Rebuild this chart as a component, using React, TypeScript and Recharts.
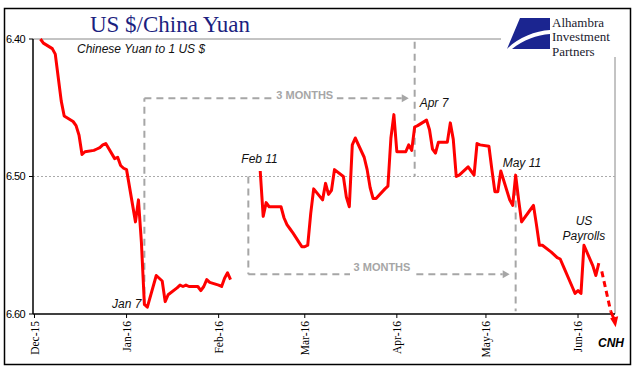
import { LineChart, Line, XAxis, YAxis, ReferenceLine, ReferenceDot } from "recharts";

// CNH per 1 US$, trading days (gap over Chinese New Year)
const dates = [
  "2015-12-03", "2015-12-04", "2015-12-07", "2015-12-08", "2015-12-09", "2015-12-10", "2015-12-11",
  "2015-12-14", "2015-12-15", "2015-12-16", "2015-12-17", "2015-12-18", "2015-12-21", "2015-12-22",
  "2015-12-23", "2015-12-24", "2015-12-25", "2015-12-28", "2015-12-29", "2015-12-30", "2015-12-31",
  "2016-01-01", "2016-01-04", "2016-01-05", "2016-01-06", "2016-01-07", "2016-01-08", "2016-01-11",
  "2016-01-12", "2016-01-13", "2016-01-14", "2016-01-15", "2016-01-18", "2016-01-19", "2016-01-20",
  "2016-01-21", "2016-01-22", "2016-01-25", "2016-01-26", "2016-01-27", "2016-01-28", "2016-01-29",
  "2016-02-01", "2016-02-02", "2016-02-03", "2016-02-04", "2016-02-05", "2016-02-10", "2016-02-15",
  "2016-02-16", "2016-02-17", "2016-02-18", "2016-02-19", "2016-02-22", "2016-02-23", "2016-02-24",
  "2016-02-25", "2016-02-26", "2016-02-29", "2016-03-01", "2016-03-02", "2016-03-03", "2016-03-04",
  "2016-03-07", "2016-03-08", "2016-03-09", "2016-03-10", "2016-03-11", "2016-03-14", "2016-03-15",
  "2016-03-16", "2016-03-17", "2016-03-18", "2016-03-21", "2016-03-22", "2016-03-23", "2016-03-24",
  "2016-03-25", "2016-03-28", "2016-03-29", "2016-03-30", "2016-03-31", "2016-04-01", "2016-04-04",
  "2016-04-05", "2016-04-06", "2016-04-07", "2016-04-08", "2016-04-11", "2016-04-12", "2016-04-13",
  "2016-04-14", "2016-04-15", "2016-04-18", "2016-04-19", "2016-04-20", "2016-04-21", "2016-04-22",
  "2016-04-25", "2016-04-26", "2016-04-27", "2016-04-28", "2016-04-29", "2016-05-02", "2016-05-03",
  "2016-05-04", "2016-05-05", "2016-05-06", "2016-05-09", "2016-05-10", "2016-05-11", "2016-05-12",
  "2016-05-13", "2016-05-16", "2016-05-17", "2016-05-18", "2016-05-19", "2016-05-20", "2016-05-23",
  "2016-05-24", "2016-05-25", "2016-05-26", "2016-05-27", "2016-05-30", "2016-05-31", "2016-06-01",
  "2016-06-02", "2016-06-03", "2016-06-06", "2016-06-07", "2016-06-08",
];
const cnh = [
  6.400, 6.403, 6.407, 6.411, 6.428, 6.445, 6.456,
  6.460, 6.463, 6.470, 6.484, 6.482, 6.481, 6.480,
  6.479, 6.477, 6.476, 6.487, 6.486, 6.492, 6.494,
  6.495, 6.533, 6.517, 6.548, 6.593, 6.595, 6.572,
  6.574, 6.576, 6.591, 6.586, 6.581, 6.579, 6.580,
  6.579, 6.580, 6.580, 6.583, 6.580, 6.575, 6.577,
  6.579, 6.580, 6.574, 6.570, 6.575, null, 6.496,
  6.529, 6.519, 6.522, 6.522, 6.522, 6.530, 6.535,
  6.538, 6.541, 6.551, 6.551, 6.550, 6.527, 6.509,
  6.517, 6.505, 6.513, 6.510, 6.495, 6.500, 6.515,
  6.522, 6.477, 6.472, 6.486, 6.495, 6.508, 6.516,
  6.516, 6.509, 6.507, 6.472, 6.455, 6.482, 6.482,
  6.477, 6.481, 6.464, 6.463, 6.459, 6.466, 6.480,
  6.483, 6.475, 6.475, 6.461, 6.473, 6.500, 6.499,
  6.493, 6.496, 6.499, 6.476, 6.477, 6.478, 6.495,
  6.511, 6.511, 6.496, 6.517, 6.521, 6.499, 6.517,
  6.533, 6.524, 6.521, 6.535, 6.550, 6.550, 6.555,
  6.557, 6.559, 6.560, 6.565, 6.580, 6.585, 6.583,
  6.585, 6.550, 6.565, 6.572, 6.563,
];
// dashed continuation at the end
const projDates = ["2016-06-09", "2016-06-12"];
const projCnh = [6.569, 6.598];

const monthDates = ["2015-12-01", "2016-01-01", "2016-02-01", "2016-03-01", "2016-04-01", "2016-05-01", "2016-06-01"];
const monthLabels = ["Dec-15", "Jan-16", "Feb-16", "Mar-16", "Apr-16", "May-16", "Jun-16"];
const yTicks = [6.4, 6.5, 6.6];

const dayOf = (s: string) => (Date.parse(s) - Date.parse("2015-12-01")) / 86400000;

const rows = dates.map((s, i) => ({ d: dayOf(s), v: cnh[i] }));
const projRows = projDates.map((s, i) => ({ d: dayOf(s), v: projCnh[i] }));
const xTicks = monthDates.map(dayOf);
const X_MAX = 195.45;

const RED = "#ff0000";
const GREY = "#a6a6a6";
const SANS = "'Liberation Sans', Arial, sans-serif";
const SERIF = "'Liberation Serif', 'Times New Roman', serif";

const MonthTick = (p: any) => {
  const i = xTicks.indexOf(p.payload.value);
  return (
    <text x={p.x} y={p.y} transform={`rotate(-90 ${p.x} ${p.y})`} textAnchor="end" dy="0.35em"
      fontFamily={SERIF} fontSize={11.5} fill="#000">
      {monthLabels[i]}
    </text>
  );
};

const dashArrow = (head: boolean) => (p: any) => {
  const { x1, y1, x2, y2 } = p;
  const a = Math.atan2(y2 - y1, x2 - x1);
  const ex = head ? x2 - 7 * Math.cos(a) : x2;
  const ey = head ? y2 - 7 * Math.sin(a) : y2;
  const px = Math.sin(a) * 4, py = -Math.cos(a) * 4;
  return (
    <g>
      <line x1={x1} y1={y1} x2={ex} y2={ey} stroke={GREY} strokeWidth={2} strokeDasharray="7 5" />
      {head && (
        <polygon points={`${x2},${y2} ${ex + px},${ey + py} ${ex - px},${ey - py}`} fill={GREY} />
      )}
    </g>
  );
};

const note = (text: string, anchor: "start" | "middle" | "end", dx: number) => (p: any) => (
  <text x={p.cx + dx} y={p.cy} textAnchor={anchor} fontFamily={SANS} fontStyle="italic"
    fontSize={12} fill="#111">
    {text}
  </text>
);

const months = (dy: number, h: number) => (p: any) => (
  <g>
    <rect x={p.cx - 32} y={p.cy - h} width={64} height={h + 4} fill="#fff" />
    <text x={p.cx} y={p.cy + dy} textAnchor="middle" fontFamily={SANS} fontWeight="bold"
      fontSize={11} fill={GREY}>
      3 MONTHS
    </text>
  </g>
);

const endArrow = (p: any) => {
  if (p.index !== projRows.length - 1) return <g key={p.index} />;
  const { cx, cy } = p;
  return (
    <g key={p.index}>
      <line x1={cx} y1={cy} x2={cx + 3} y2={cy + 7} stroke={RED} strokeWidth={3} />
      <polygon points={`${cx + 5},${cy + 16} ${cx - 0.5},${cy + 7} ${cx + 7.5},${cy + 5}`} fill={RED} />
    </g>
  );
};

export default function App() {
  return (
    <div style={{ position: "relative", width: 641, height: 381, background: "#fff" }}>
      <style>{`body{margin:0}`}</style>
      <LineChart width={641} height={381} margin={{ top: 39, right: 26, bottom: 27, left: 3 }}>
        <XAxis type="number" dataKey="d" domain={[-0.5, X_MAX]} ticks={xTicks} tick={<MonthTick />}
          axisLine={{ stroke: "#000", strokeWidth: 1.5 }} tickLine={{ stroke: "#000" }}
          tickSize={4} tickMargin={3} height={40} interval={0} />
        <YAxis type="number" domain={[6.4, 6.6]} reversed ticks={yTicks} width={30}
          tickFormatter={(v: number) => v.toFixed(2)} interval={0}
          axisLine={{ stroke: "#000", strokeWidth: 1.5 }} tickLine={{ stroke: "#000" }}
          tickSize={4} tickMargin={4}
          tick={{ fill: "#000", fontSize: 11, fontFamily: SANS, letterSpacing: -0.6 }} />
        <ReferenceLine y={6.4} stroke="#888" />
        <ReferenceLine x={X_MAX} stroke="#888" />
        <ReferenceLine y={6.5} stroke="#aaa" strokeDasharray="2 2" />

        <ReferenceLine segment={[{ x: dayOf("2016-01-07"), y: 6.594 }, { x: dayOf("2016-01-07"), y: 6.443 }]}
          shape={dashArrow(false)} />
        <ReferenceLine segment={[{ x: dayOf("2016-01-07"), y: 6.443 }, { x: dayOf("2016-04-05"), y: 6.443 }]}
          shape={dashArrow(true)} />
        <ReferenceLine segment={[{ x: dayOf("2016-04-07"), y: 6.402 }, { x: dayOf("2016-04-07"), y: 6.5 }]}
          shape={dashArrow(false)} />
        <ReferenceLine segment={[{ x: dayOf("2016-02-11"), y: 6.5 }, { x: dayOf("2016-02-11"), y: 6.571 }]}
          shape={dashArrow(false)} />
        <ReferenceLine segment={[{ x: dayOf("2016-02-11"), y: 6.571 }, { x: dayOf("2016-05-09"), y: 6.571 }]}
          shape={dashArrow(true)} />
        <ReferenceLine segment={[{ x: dayOf("2016-05-11"), y: 6.5 }, { x: dayOf("2016-05-11"), y: 6.598 }]}
          shape={dashArrow(false)} />

        <ReferenceDot x={dayOf("2016-03-01")} y={6.443} r={1} shape={months(1, 9)} />
        <ReferenceDot x={dayOf("2016-03-27")} y={6.571} r={1} shape={months(-3, 13)} />

        <ReferenceDot x={dayOf("2016-01-07")} y={6.5956} r={1} shape={note("Jan 7", "end", -3)} />
        <ReferenceDot x={dayOf("2016-02-11")} y={6.4902} r={1} shape={note("Feb 11", "start", -7)} />
        <ReferenceDot x={dayOf("2016-04-07")} y={6.4495} r={1} shape={note("Apr 7", "start", 5)} />
        <ReferenceDot x={dayOf("2016-05-11")} y={6.4931} r={1} shape={note("May 11", "start", -13)} />
        <ReferenceDot x={dayOf("2016-06-03")} y={6.5353} r={1} shape={note("US", "middle", 0)} />
        <ReferenceDot x={dayOf("2016-06-03")} y={6.5462} r={1} shape={note("Payrolls", "middle", 0)} />

        <Line data={rows} dataKey="v" stroke={RED} strokeWidth={3} dot={false} strokeLinejoin="round"
          isAnimationActive={false} connectNulls={false} />
        <Line data={projRows} dataKey="v" stroke={RED} strokeWidth={3} strokeDasharray="6 4"
          dot={endArrow} activeDot={false} isAnimationActive={false} />
      </LineChart>

      <svg width={641} height={381} style={{ position: "absolute", left: 0, top: 0, pointerEvents: "none" }}>
        <rect x={501} y={9.5} width={128} height={47.5} fill="#fff" />
        <path d="M520,18 L550,18 L550,30 C535,31 517,38 507,49 Z" fill="#1b2590" />
        <path d="M512,49 C523,40 537,35 550,34 L550,49 Z" fill="#1b2590" />
        <text fontFamily={SERIF} fontSize={13} fill="#1a1a2e">
          <tspan x={552} y={26.5}>Alhambra</tspan>
          <tspan x={552} y={41}>Investment</tspan>
          <tspan x={552} y={55.5}>Partners</tspan>
        </text>
        <text x={170} y={32} textAnchor="middle" fontFamily={SERIF} fontSize={23} fill="#1c1f7f">
          US $/China Yuan
        </text>
        <text x={77} y={53} fontFamily={SANS} fontStyle="italic" fontSize={12} fill="#111">
          Chinese Yuan to 1 US $
        </text>
        <text x={598} y={347} fontFamily={SANS} fontStyle="italic" fontWeight="bold" fontSize={12} fill="#000">
          CNH
        </text>
        <rect x={4.5} y={8.5} width={626} height={356} fill="none" stroke="#000" strokeWidth={1.5} />
      </svg>
    </div>
  );
}
